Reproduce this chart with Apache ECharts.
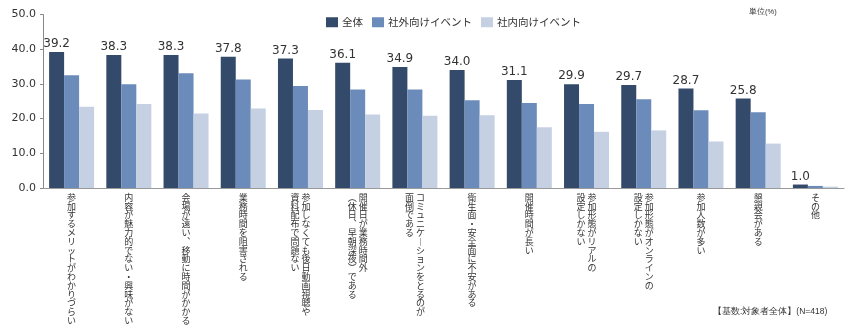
<!DOCTYPE html>
<html><head><meta charset="utf-8">
<script src="https://cdn.jsdelivr.net/npm/echarts@6/dist/echarts.min.js"></script>
<style>html,body{margin:0;padding:0;background:#fff}#c{width:850px;height:336px}</style>
</head><body><div id="c"></div>
<script>
const categories = [
  "参加するメリットがわかりづらい",
  "内容が魅力的でない・興味がない",
  "会場が遠い、移動に時間がかかる",
  "業務時間を阻害される",
  "参加しなくても後日動画視聴や\n資料配布で問題ない",
  "開催日が業務時間外\n(休日、早朝深夜)である",
  "コミュニケーションをとるのが\n面倒である",
  "衛生面・安全面に不安がある",
  "開催時間が長い",
  "参加形態がリアルの\n設定しかない",
  "参加形態がオンラインの\n設定しかない",
  "参加人数が多い",
  "懇親会がある",
  "その他"
];
const seriesNames = ["全体", "社外向けイベント", "社内向けイベント"];
const totalValues = [39.2, 38.3, 38.3, 37.8, 37.3, 36.1, 34.9, 34.0, 31.1, 29.9, 29.7, 28.7, 25.8, 1.0];
const externalValues = [32.5, 29.9, 33.1, 31.3, 29.4, 28.4, 28.4, 25.3, 24.5, 24.2, 25.6, 22.4, 21.8, 0.6];
const internalValues = [23.4, 24.2, 21.5, 22.9, 22.5, 21.2, 20.8, 21.0, 17.5, 16.2, 16.6, 13.4, 12.8, 0.4];
const yTicks = [0, 10, 20, 30, 40, 50];

const vmap = {"ー": "︱", "、": "︑", "(": "︵", ")": "︶", "（": "︵", "）": "︶"};
function toVertical(v) {
  const lines = v.split("\n").map(l => Array.from(l).map(c => vmap[c] || c));
  const n = Math.max(...lines.map(l => l.length));
  const rows = [];
  for (let i = 0; i < n; i++) {
    const cols = [];
    for (let j = lines.length - 1; j >= 0; j--) cols.push(lines[j][i] || "　");
    rows.push(cols.join(" "));
  }
  return rows.join("\n");
}

const colors = ["#344a6b", "#6b8bba", "#c5d0e2"];
const chart = echarts.init(document.getElementById("c"));
const jp = '"Noto Sans CJK JP", sans-serif';
chart.setOption({
  animation: false,
  textStyle: {fontFamily: jp},
  grid: {left: 43, right: 6, top: 14.5, bottom: 148, containLabel: false},
  legend: {
    data: seriesNames, left: 321, top: 12, itemWidth: 12, itemHeight: 10, itemGap: 9,
    icon: "rect", textStyle: {fontSize: 10.5, color: "#333", fontFamily: jp, padding: [0, 0, 0, -1]}
  },
  xAxis: {
    type: "category", data: categories,
    axisLine: {lineStyle: {color: "#999", width: 1}},
    axisTick: {show: false},
    axisLabel: {
      interval: 0, margin: 5, fontSize: 9, lineHeight: 8.8, color: "#333",
      verticalAlign: "top", fontFamily: jp, formatter: toVertical
    }
  },
  yAxis: {
    type: "value", min: yTicks[0], max: yTicks[yTicks.length - 1], interval: 10,
    splitLine: {show: false},
    axisLine: {show: true, lineStyle: {color: "#888"}},
    axisTick: {show: true, length: 3, lineStyle: {color: "#888"}},
    axisLabel: {margin: 7, fontSize: 11, color: "#333", fontFamily: "DejaVu Sans",
      formatter: v => v.toFixed(1)}
  },
  series: [
    {name: seriesNames[0], type: "bar", data: totalValues, barWidth: 15, barGap: "0%",
     itemStyle: {color: colors[0]},
     label: {show: true, position: "top", distance: 2, fontSize: 12, color: "#333",
       fontFamily: "DejaVu Sans", formatter: p => p.value.toFixed(1)}},
    {name: seriesNames[1], type: "bar", data: externalValues, barWidth: 15, barGap: "0%",
     itemStyle: {color: colors[1]}},
    {name: seriesNames[2], type: "bar", data: internalValues, barWidth: 15, barGap: "0%",
     itemStyle: {color: colors[2]}}
  ],
  graphic: [
    {type: "text", left: 749, top: 8, style: {text: "単位(%)", fontSize: 7.5, fill: "#333", font: '7.5px "Noto Sans CJK JP"'}},
    {type: "text", left: 713, top: 307, style: {text: "【基数:対象者全体】(N=418)", fontSize: 8.5, fill: "#333", font: '8.5px "Noto Sans CJK JP"'}}
  ]
});
</script></body></html>
